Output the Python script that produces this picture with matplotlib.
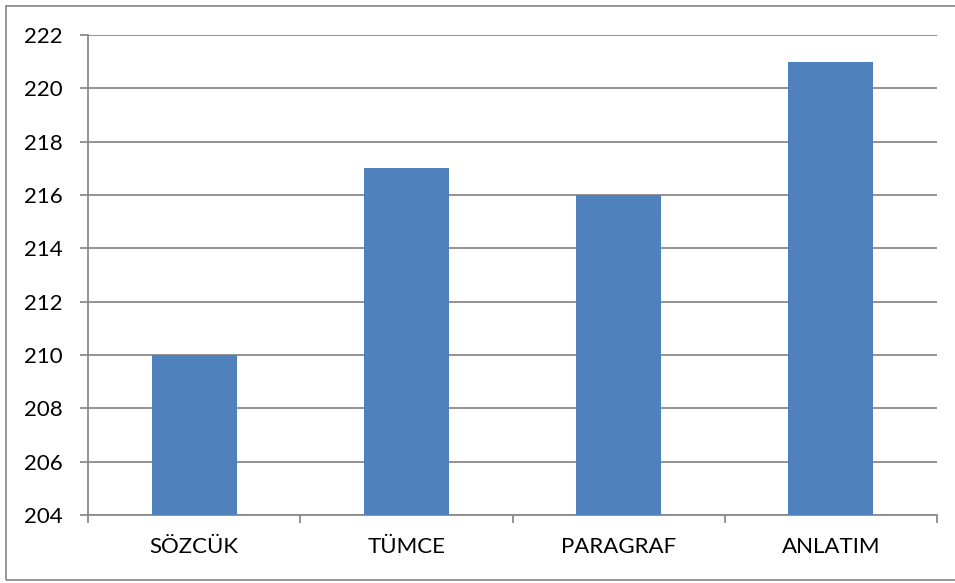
import matplotlib
matplotlib.use("Agg")
import matplotlib.pyplot as plt
from matplotlib.patches import Rectangle
from matplotlib.ticker import FixedLocator, MultipleLocator
import numpy as np

categories = ["SÖZCÜK", "TÜMCE", "PARAGRAF", "ANLATIM"]
values = [210, 217, 216, 221]
y_min, y_max, y_step = 204, 222, 2

W, H = 955, 583
fig = plt.figure(figsize=(W / 100, H / 100), dpi=100)
plt.rcParams["font.family"] = ["Lato", "DejaVu Sans"]

# chart border (open on the right)
fig.add_artist(Rectangle((6 / W, 1 - 580 / H), 960 / W, (580 - 6) / H,
                         transform=fig.transFigure, fill=False,
                         edgecolor="#8c8c8c", linewidth=1.3))

ax = fig.add_axes([88 / W, 1 - 515 / H, (937 - 88) / W, (515 - 35) / H])
x = np.arange(len(categories))
ax.bar(x, [v - y_min for v in values], bottom=y_min, width=0.4,
       color="#4f81bd", zorder=3)

ax.set_xlim(-0.5, len(categories) - 0.5)
ax.set_ylim(y_min, y_max)
ax.yaxis.set_major_locator(MultipleLocator(y_step))
ax.grid(axis="y", color="#8a8a8a", linewidth=1.3, zorder=0)

for s in ["top", "right"]:
    ax.spines[s].set_visible(False)
for s in ["left", "bottom"]:
    ax.spines[s].set_color("#8a8a8a")
    ax.spines[s].set_linewidth(1.3)

ax.set_xticks(x)
ax.set_xticklabels(categories)
ax.xaxis.set_minor_locator(FixedLocator(np.arange(-0.5, len(categories), 1.0)))
ax.tick_params(axis="x", which="major", length=0, pad=16, labelsize=16)
ax.tick_params(axis="x", which="minor", length=6, width=1.3, color="#8a8a8a")
ax.tick_params(axis="y", length=6, width=1.3, color="#8a8a8a", pad=12,
               labelsize=16)

fig.savefig("out.png", dpi=100)
